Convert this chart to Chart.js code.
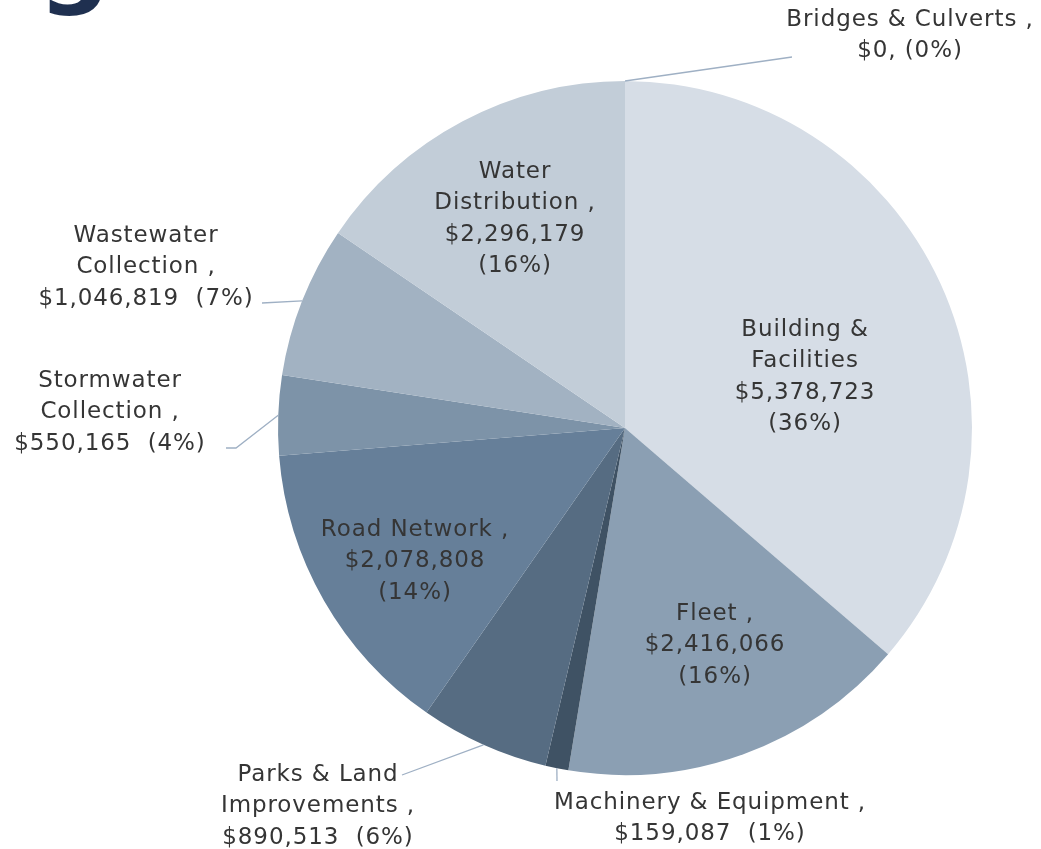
<!DOCTYPE html>
<html>
<head>
<meta charset="utf-8">
<script src="https://cdn.jsdelivr.net/npm/chart.js@4.4.1/dist/chart.umd.min.js"></script>
<style>
  html, body { margin: 0; padding: 0; background: #fff; }
  #wrap { width: 1041px; height: 849px; position: relative; }
</style>
</head>
<body>
<div id="wrap"><canvas id="myChart" width="1041" height="849"></canvas></div>
<script>
// data
const categories = ['Building & Facilities', 'Fleet', 'Machinery & Equipment', 'Parks & Land Improvements',
    'Road Network', 'Stormwater Collection', 'Wastewater Collection', 'Water Distribution', 'Bridges & Culverts'];
const values = [5378723, 2416066, 159087, 890513, 2078808, 550165, 1046819, 2296179, 0];
const percents = [36, 16, 1, 6, 14, 4, 7, 16, 0];
const nameLines = [
    ['Building &', 'Facilities'],
    ['Fleet ,'],
    ['Machinery & Equipment ,'],
    ['Parks & Land', 'Improvements ,'],
    ['Road Network ,'],
    ['Stormwater', 'Collection ,'],
    ['Wastewater', 'Collection ,'],
    ['Water', 'Distribution ,'],
    ['Bridges & Culverts ,']
];

const sliceColors = ['#d6dde6', '#8b9fb3', '#3f5264', '#566c82', '#667f99', '#7d93a8', '#a2b2c2', '#c2cdd8', '#b0bccb'];

// label layout: inside labels (inner) or outside with leader (outer)
const labelLayout = [
    {type: 'inner', x: 805, y: 330},
    {type: 'inner', x: 715, y: 614},
    {type: 'outer', x: 710, y: 803, leader: [[557, 781]]},
    {type: 'outer', x: 318, y: 775, leader: [[402, 775]]},
    {type: 'inner', x: 415, y: 530},
    {type: 'outer', x: 110, y: 381, leader: [[236, 448], [226, 448]]},
    {type: 'outer', x: 146, y: 236, leader: [[262, 303]]},
    {type: 'inner', x: 515, y: 172},
    {type: 'outer', x: 910, y: 20, leader: [[792, 57]]}
];

const money = v => '$' + v.toLocaleString('en-US');

const labelPlugin = {
    id: 'sliceLabels',
    afterDatasetsDraw(chart) {
        const ctx = chart.ctx;
        const arcs = chart.getDatasetMeta(0).data;
        ctx.save();
        ctx.font = '23px "DejaVu Sans", Verdana, sans-serif';
        ctx.letterSpacing = '0.9px';
        ctx.textAlign = 'center';
        ctx.textBaseline = 'middle';
        for (let i = 0; i < categories.length; i++) {
            const lay = labelLayout[i];
            let lines = nameLines[i].slice();
            if (lay.type === 'inner') {
                lines.push(money(values[i]));
                lines.push('(' + percents[i] + '%)');
            } else if (values[i] === 0) {
                lines.push(money(values[i]) + ', (' + percents[i] + '%)');
            } else {
                lines.push(money(values[i]) + '  (' + percents[i] + '%)');
            }

            if (lay.type === 'outer') {
                // leader line from the slice's edge
                const a = arcs[i];
                const mid = (a.startAngle + a.endAngle) / 2;
                const sx = a.x + Math.cos(mid) * a.outerRadius;
                const sy = a.y + Math.sin(mid) * a.outerRadius;
                ctx.strokeStyle = '#9fb0c4';
                ctx.lineWidth = 1.3;
                ctx.beginPath();
                ctx.moveTo(sx, sy);
                lay.leader.forEach(p => ctx.lineTo(p[0], p[1]));
                ctx.stroke();
            }

            ctx.fillStyle = '#353535';
            lines.forEach((t, k) => ctx.fillText(t, lay.x, lay.y + k * 31.5));
        }

        // cut-off heading from above the chart
        ctx.letterSpacing = '0px';
        ctx.fillStyle = '#1f3050';
        ctx.font = 'bold 100px "DejaVu Sans", sans-serif';
        ctx.textAlign = 'right';
        ctx.textBaseline = 'alphabetic';
        ctx.fillText('g', 110, -6);
        ctx.restore();
    }
};

const data = {
    labels: categories,
    datasets: [{
        data: values,
        backgroundColor: sliceColors,
        borderWidth: 0
    }]
};

const config = {
    type: 'pie',
    data,
    options: {
        responsive: false,
        animation: false,
        layout: {
            padding: {left: 278, right: 69, top: 81, bottom: 74}
        },
        plugins: {
            legend: {display: false},
            tooltip: {enabled: false}
        }
    },
    plugins: [labelPlugin]
};

const myChart = new Chart(document.getElementById('myChart'), config);
</script>
</body>
</html>
